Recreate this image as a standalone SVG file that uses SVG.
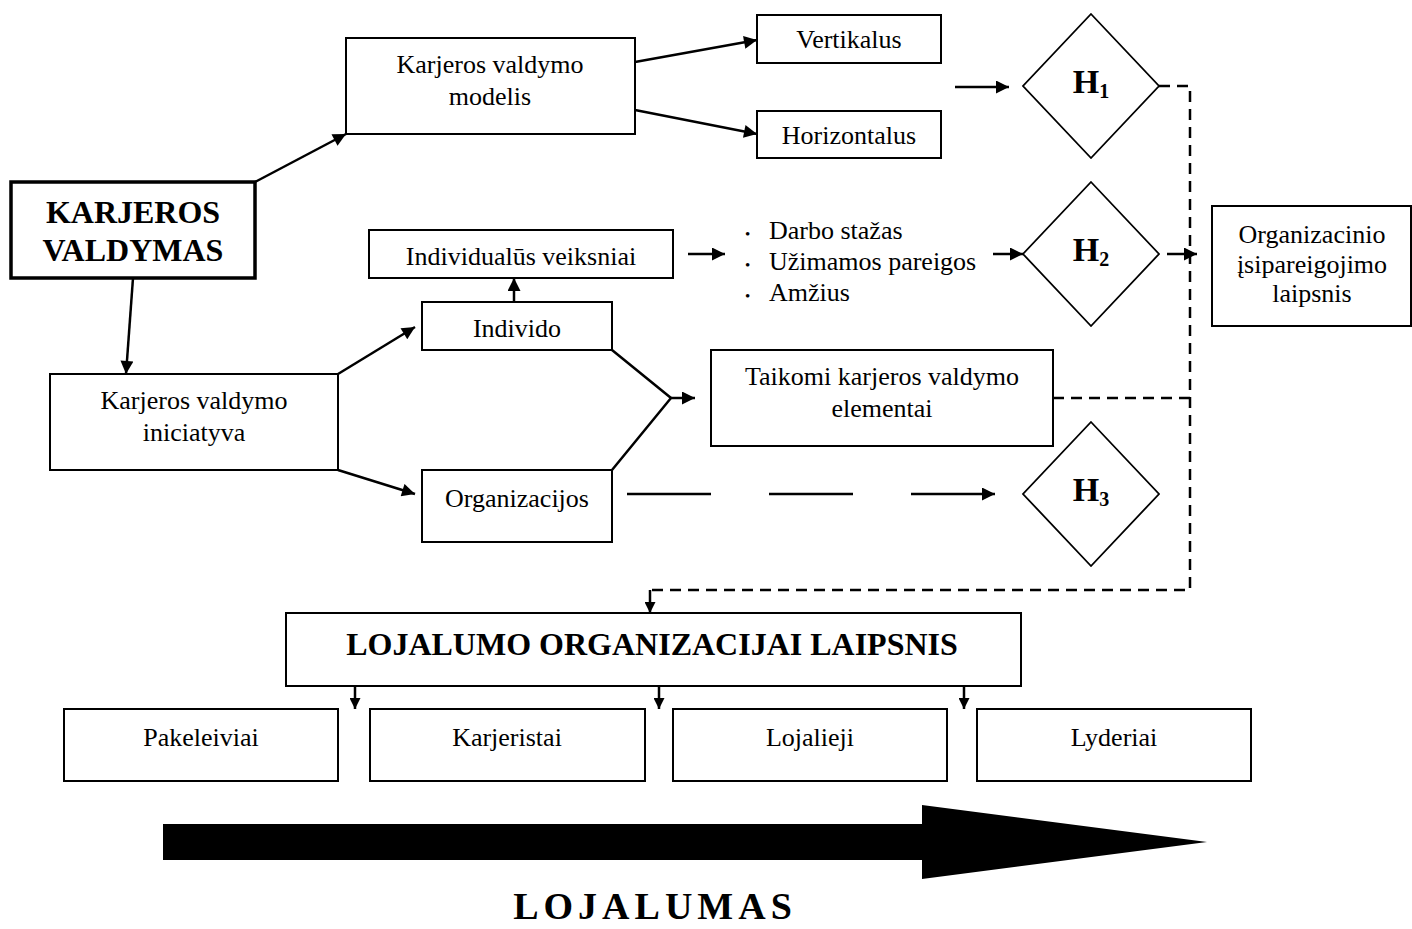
<svg xmlns="http://www.w3.org/2000/svg" width="1412" height="929" viewBox="0 0 1412 929">
  <style>
    .box { fill: #fff; stroke: #000; stroke-width: 2; }
    .dia { fill: #fff; stroke: #000; stroke-width: 1.8; }
    .t { font-family: "Liberation Serif", "Times New Roman", serif; font-size: 26px; fill: #000; text-anchor: middle; }
    .tl { font-family: "Liberation Serif", "Times New Roman", serif; font-size: 26px; fill: #000; }
    .b { font-weight: bold; font-size: 32px; }
    .h { font-family: "Liberation Serif", "Times New Roman", serif; font-size: 34px; font-weight: bold; fill: #000; text-anchor: middle; }
    .sub { font-size: 20px; }
    .dot { font-size: 15px; }
    .ln { fill: none; stroke: #000; stroke-width: 2.5; }
    .dash { fill: none; stroke: #000; stroke-width: 2.5; stroke-dasharray: 11 7; }
  </style>
  <defs>
    <marker id="arr" viewBox="0 0 10 10" refX="10" refY="5" markerWidth="17" markerHeight="13" markerUnits="userSpaceOnUse" orient="auto">
      <path d="M0,0 L10,5 L0,10 z" fill="#000"/>
    </marker>
    <marker id="arrs" viewBox="0 0 10 10" refX="10" refY="5" markerWidth="15" markerHeight="11" markerUnits="userSpaceOnUse" orient="auto">
      <path d="M0,0 L10,5 L0,10 z" fill="#000"/>
    </marker>
  </defs>

  <!-- connectors -->
  <g id="connectors">
    <line class="ln" x1="255" y1="182" x2="346" y2="134" marker-end="url(#arr)"/>
    <line class="ln" x1="133" y1="278" x2="126" y2="374" marker-end="url(#arr)"/>
    <line class="ln" x1="635" y1="62" x2="757" y2="40" marker-end="url(#arr)"/>
    <line class="ln" x1="635" y1="110" x2="757" y2="134" marker-end="url(#arr)"/>
    <line class="ln" x1="955" y1="87" x2="1009" y2="87" marker-end="url(#arr)"/>
    <line class="ln" x1="514" y1="302" x2="514" y2="278" marker-end="url(#arr)"/>
    <line class="ln" x1="688" y1="254" x2="725" y2="254" marker-end="url(#arr)"/>
    <line class="ln" x1="993" y1="254" x2="1023" y2="254" marker-end="url(#arr)"/>
    <line class="ln" x1="1167" y1="254" x2="1197" y2="254" marker-end="url(#arr)"/>
    <line class="ln" x1="338" y1="374" x2="415" y2="327" marker-end="url(#arr)"/>
    <line class="ln" x1="338" y1="470" x2="415" y2="494" marker-end="url(#arr)"/>
    <polyline class="ln" points="612,350 671,398 612,470"/>
    <line class="ln" x1="671" y1="398" x2="695" y2="398" marker-end="url(#arr)"/>
    <line class="ln" x1="627" y1="494" x2="995" y2="494" stroke-dasharray="84 58" marker-end="url(#arr)"/>
    <polyline class="dash" points="1159,86 1190,86 1190,590 650,590"/>
    <line class="dash" x1="1053" y1="398" x2="1190" y2="398"/>
    <line class="ln" x1="650" y1="590" x2="650" y2="613" marker-end="url(#arrs)"/>
    <line class="ln" x1="355" y1="686" x2="355" y2="709" marker-end="url(#arrs)"/>
    <line class="ln" x1="659" y1="686" x2="659" y2="709" marker-end="url(#arrs)"/>
    <line class="ln" x1="964" y1="686" x2="964" y2="709" marker-end="url(#arrs)"/>
  </g>

  <g id="karjeros-valdymas">
    <rect x="11" y="182" width="244" height="96" fill="#fff" stroke="#000" stroke-width="3.5"/>
    <text class="t b" x="133" y="223">KARJEROS</text>
    <text class="t b" x="133" y="261">VALDYMAS</text>
  </g>

  <g id="modelis">
    <rect class="box" x="346" y="38" width="289" height="96"/>
    <text class="t" x="490" y="73">Karjeros valdymo</text>
    <text class="t" x="490" y="105">modelis</text>
  </g>

  <g id="vertikalus">
    <rect class="box" x="757" y="15" width="184" height="48"/>
    <text class="t" x="849" y="48">Vertikalus</text>
  </g>

  <g id="horizontalus">
    <rect class="box" x="757" y="111" width="184" height="47"/>
    <text class="t" x="849" y="144">Horizontalus</text>
  </g>

  <g id="h1">
    <polygon class="dia" points="1091,14 1159,86 1091,158 1023,86"/>
    <text class="h" x="1091" y="93">H<tspan class="sub" dy="5">1</tspan></text>
  </g>

  <g id="individualus">
    <rect class="box" x="369" y="230" width="304" height="48"/>
    <text class="t" x="521" y="265">Individualūs veiksniai</text>
  </g>

  <g id="veiksniai-list">
    <text class="tl" x="745" y="239"><tspan class="dot">•</tspan></text>
    <text class="tl" x="769" y="239">Darbo stažas</text>
    <text class="tl" x="745" y="270"><tspan class="dot">•</tspan></text>
    <text class="tl" x="769" y="270">Užimamos pareigos</text>
    <text class="tl" x="745" y="301"><tspan class="dot">•</tspan></text>
    <text class="tl" x="769" y="301">Amžius</text>
  </g>

  <g id="h2">
    <polygon class="dia" points="1091,182 1159,254 1091,326 1023,254"/>
    <text class="h" x="1091" y="261">H<tspan class="sub" dy="5">2</tspan></text>
  </g>

  <g id="isipareigojimas">
    <rect class="box" x="1212" y="206" width="199" height="120"/>
    <text class="t" x="1312" y="243">Organizacinio</text>
    <text class="t" x="1312" y="273">įsipareigojimo</text>
    <text class="t" x="1312" y="302">laipsnis</text>
  </g>

  <g id="individo">
    <rect class="box" x="422" y="302" width="190" height="48"/>
    <text class="t" x="517" y="337">Individo</text>
  </g>

  <g id="iniciatyva">
    <rect class="box" x="50" y="374" width="288" height="96"/>
    <text class="t" x="194" y="409">Karjeros valdymo</text>
    <text class="t" x="194" y="441">iniciatyva</text>
  </g>

  <g id="organizacijos">
    <rect class="box" x="422" y="470" width="190" height="72"/>
    <text class="t" x="517" y="507">Organizacijos</text>
  </g>

  <g id="taikomi">
    <rect class="box" x="711" y="350" width="342" height="96"/>
    <text class="t" x="882" y="385">Taikomi karjeros valdymo</text>
    <text class="t" x="882" y="417">elementai</text>
  </g>

  <g id="h3">
    <polygon class="dia" points="1091,422 1159,494 1091,566 1023,494"/>
    <text class="h" x="1091" y="501">H<tspan class="sub" dy="5">3</tspan></text>
  </g>

  <g id="lojalumo-laipsnis">
    <rect class="box" x="286" y="613" width="735" height="73"/>
    <text class="t b" x="652" y="655">LOJALUMO ORGANIZACIJAI LAIPSNIS</text>
  </g>

  <g id="pakeleiviai">
    <rect class="box" x="64" y="709" width="274" height="72"/>
    <text class="t" x="201" y="746">Pakeleiviai</text>
  </g>
  <g id="karjeristai">
    <rect class="box" x="370" y="709" width="275" height="72"/>
    <text class="t" x="507" y="746">Karjeristai</text>
  </g>
  <g id="lojalieji">
    <rect class="box" x="673" y="709" width="274" height="72"/>
    <text class="t" x="810" y="746">Lojalieji</text>
  </g>
  <g id="lyderiai">
    <rect class="box" x="977" y="709" width="274" height="72"/>
    <text class="t" x="1114" y="746">Lyderiai</text>
  </g>

  <g id="lojalumas">
    <polygon points="163,824 922,824 922,805 1207,842 922,879 922,860 163,860" fill="#000"/>
    <text class="t" x="655" y="919" style="font-size:38px;font-weight:bold;letter-spacing:5px">LOJALUMAS</text>
  </g>
</svg>
